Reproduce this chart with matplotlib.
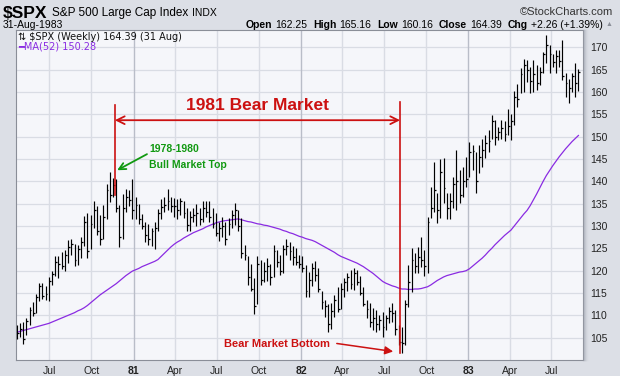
import matplotlib
matplotlib.use('Agg')
import matplotlib.pyplot as plt
import matplotlib.dates as mdates
import pandas as pd

plt.rcParams['font.family'] = ['Liberation Sans', 'DejaVu Sans']

# weekly bars, week of 21-Apr-1980 .. week of 29-Aug-1983
weeks = pd.date_range('1980-04-21', periods=176, freq='7D')

highs = [
    107.8, 108.3, 108.5, 109.3, 111.8, 112.9, 114.8, 117.2, 117.3, 116.6,
    118.6, 120.0, 123.2, 123.4, 124.2, 124.6, 126.8, 127.2, 126.0, 125.8,
    127.5, 132.3, 133.0, 132.5, 135.5, 134.5, 132.4, 134.6, 139.4, 142.0,
    140.7, 140.5, 134.6, 137.2, 138.3, 138.0, 140.5, 136.4, 135.0, 132.7,
    130.9, 130.5, 129.5, 131.0, 133.8, 136.1, 136.4, 138.3, 136.4, 136.3,
    136.0, 136.3, 135.5, 134.0, 133.3, 134.0, 135.0, 134.0, 135.5, 135.5,
    135.5, 134.0, 132.9, 131.0, 132.0, 131.0, 131.8, 133.5, 135.1, 133.5,
    131.8, 125.8, 123.2, 121.5, 118.4, 123.3, 122.4, 122.0, 122.8, 121.6,
    125.7, 124.6, 123.5, 125.7, 127.2, 126.5, 125.5, 125.0, 123.5, 123.2,
    121.3, 119.8, 121.8, 122.2, 120.5, 115.5, 113.5, 112.5, 112.7, 114.6,
    116.4, 117.2, 118.3, 119.4, 120.1, 120.5, 120.1, 118.7, 116.4, 113.4,
    112.7, 111.6, 111.2, 110.0, 110.8, 110.0, 111.9, 112.7, 111.2, 107.8,
    107.5, 113.4, 121.3, 125.0, 123.9, 125.4, 127.6, 124.6, 132.1, 138.8,
    144.4, 137.3, 144.9, 145.2, 137.3, 137.3, 141.0, 147.0, 142.5, 143.3,
    145.5, 148.9, 148.2, 146.6, 148.1, 149.6, 150.4, 151.5, 154.8, 153.7,
    152.2, 153.7, 153.5, 156.3, 155.2, 160.2, 161.9, 165.3, 167.5, 167.2,
    165.7, 167.2, 166.0, 165.7, 169.0, 172.8, 170.5, 168.5, 169.4, 169.4,
    171.6, 164.2, 163.0, 164.2, 166.4, 165.16,
]
lows = [
    104.6, 105.2, 103.6, 105.5, 107.8, 109.8, 110.5, 113.2, 113.6, 113.4,
    113.2, 116.8, 118.8, 118.4, 120.3, 120.0, 121.7, 123.5, 121.0, 121.2,
    122.8, 125.6, 122.8, 124.8, 129.5, 127.9, 125.7, 127.0, 131.5, 135.3,
    136.5, 133.1, 125.3, 127.0, 133.1, 134.5, 131.6, 131.6, 130.5, 129.4,
    126.4, 125.7, 125.5, 124.9, 129.0, 131.6, 133.1, 133.5, 133.1, 132.0,
    131.5, 132.5, 131.8, 128.8, 128.8, 131.0, 130.0, 130.3, 130.8, 132.0,
    131.0, 129.5, 127.7, 126.6, 127.5, 125.8, 128.0, 129.5, 130.3, 128.8,
    122.8, 122.5, 116.9, 115.4, 110.3, 112.5, 116.8, 117.5, 117.8, 116.8,
    118.5, 120.8, 119.0, 119.5, 123.5, 122.5, 121.3, 121.3, 120.5, 119.8,
    114.2, 114.0, 116.5, 117.7, 115.3, 111.5, 109.7, 106.3, 107.0, 109.7,
    110.8, 111.5, 114.2, 115.5, 116.0, 115.7, 116.8, 114.6, 112.0, 109.3,
    107.5, 106.8, 106.3, 106.7, 105.2, 106.7, 108.2, 108.5, 105.6, 103.4,
    101.5, 103.4, 111.9, 115.3, 119.4, 119.4, 120.9, 118.7, 119.4, 131.7,
    133.2, 130.6, 131.8, 135.1, 131.6, 131.6, 134.0, 133.6, 135.1, 136.6,
    138.8, 141.0, 142.5, 137.5, 141.8, 143.3, 145.2, 146.6, 149.6, 148.1,
    149.2, 149.5, 149.0, 150.4, 149.2, 152.6, 156.7, 159.7, 160.1, 162.3,
    159.7, 160.1, 160.5, 161.5, 164.2, 166.4, 164.2, 165.7, 164.2, 165.7,
    162.7, 158.9, 157.5, 160.0, 159.0, 160.16,
]
closes = [
    106.0, 107.0, 104.8, 108.8, 111.2, 110.6, 114.0, 116.5, 114.3, 114.8,
    117.8, 119.2, 122.0, 121.5, 121.0, 123.6, 125.2, 126.0, 122.4, 124.9,
    126.5, 131.0, 124.5, 130.5, 133.5, 129.0, 127.0, 132.0, 138.0, 137.0,
    139.3, 134.0, 127.5, 134.0, 136.5, 135.8, 133.5, 134.6, 131.5, 130.0,
    128.0, 127.0, 128.8, 129.5, 133.0, 134.2, 134.8, 135.5, 134.5, 134.5,
    133.5, 135.5, 133.0, 130.2, 132.0, 132.5, 133.0, 131.5, 134.0, 133.2,
    132.0, 130.5, 128.5, 129.5, 130.0, 127.0, 130.5, 132.5, 133.5, 130.0,
    124.0, 123.5, 118.5, 116.0, 112.0, 121.5, 118.0, 120.0, 121.0, 118.5,
    124.5, 122.0, 120.0, 124.8, 125.5, 124.5, 123.0, 122.0, 121.5, 120.5,
    115.5, 118.0, 120.5, 119.0, 116.0, 113.0, 112.0, 108.0, 111.0, 113.5,
    111.5, 116.0, 117.5, 118.5, 117.0, 119.5, 117.5, 115.0, 112.5, 111.5,
    108.5, 109.5, 108.0, 109.0, 107.5, 109.5, 111.0, 110.5, 107.0, 104.0,
    103.9, 112.5, 117.5, 122.5, 121.0, 123.0, 122.5, 121.0, 131.0, 134.0,
    138.0, 133.5, 142.0, 138.5, 134.0, 135.5, 139.5, 140.0, 137.0, 140.0,
    140.5, 146.5, 146.8, 140.0, 145.5, 147.0, 148.5, 149.0, 153.5, 150.0,
    151.0, 152.0, 150.5, 152.5, 153.5, 159.0, 158.5, 164.0, 166.0, 165.0,
    162.5, 164.0, 162.0, 164.5, 168.5, 170.5, 168.5, 166.8, 168.0, 167.0,
    163.5, 162.0, 161.0, 163.5, 162.13, 164.39,
]
ma52 = [
    106.2, 106.4, 106.6, 106.8, 107.0, 107.2, 107.4, 107.6, 107.8, 108.0,
    108.2, 108.5, 108.8, 109.1, 109.4, 109.7, 110.0, 110.3, 110.6, 111.0,
    111.3, 111.7, 112.2, 112.8, 113.4, 114.0, 114.6, 115.1, 115.6, 116.1,
    116.6, 117.1, 117.7, 118.3, 118.9, 119.4, 119.9, 120.2, 120.5, 120.9,
    121.2, 121.5, 121.8, 122.1, 122.5, 123.2, 123.9, 124.6, 125.3, 125.9,
    126.4, 126.8, 127.3, 127.7, 128.1, 128.5, 128.8, 129.1, 129.4, 129.8,
    130.1, 130.4, 130.7, 130.9, 131.1, 131.2, 131.3, 131.4, 131.5, 131.6,
    131.4, 131.2, 131.0, 130.9, 130.7, 130.5, 130.4, 130.2, 130.1, 129.9,
    129.7, 129.5, 129.3, 129.0, 128.8, 128.5, 128.3, 128.0, 127.7, 127.5,
    127.2, 127.0, 126.8, 126.5, 126.1, 125.7, 125.3, 124.9, 124.5, 124.1,
    123.6, 123.2, 122.9, 122.6, 122.3, 122.0, 121.7, 121.3, 120.9, 120.4,
    119.9, 119.4, 118.8, 118.2, 117.6, 117.2, 116.9, 116.6, 116.4, 116.1,
    115.9, 115.9, 115.8, 115.8, 115.9, 115.9, 116.0, 116.2, 116.4, 116.8,
    117.3, 117.8, 118.2, 118.6, 118.9, 119.1, 119.3, 119.5, 119.7, 119.8,
    120.0, 120.4, 121.0, 121.6, 122.2, 122.8, 123.5, 124.3, 125.0, 125.8,
    126.5, 127.2, 127.9, 128.5, 129.1, 130.0, 130.9, 131.8, 132.7, 133.5,
    134.6, 135.9, 137.2, 138.6, 140.0, 141.3, 142.4, 143.5, 144.5, 145.5,
    146.4, 147.3, 148.1, 148.9, 149.6, 150.28,
]

price_ticks = list(range(105, 171, 5))
quarter_ticks = pd.date_range('1980-07-01', '1983-07-01', freq='QS')
quarter_labels = ['Jul', 'Oct', '81', 'Apr', 'Jul', 'Oct', '82',
                  'Apr', 'Jul', 'Oct', '83', 'Apr', 'Jul']

W, H = 620, 376
fig = plt.figure(figsize=(W / 100, H / 100), dpi=100, facecolor='#dcdfe6')
ax = fig.add_axes([16 / W, 16 / H, 567 / W, 330 / H])
ax.set_facecolor('#f5f6fa')

ax.set_xlim(pd.Timestamp('1980-04-19 08:00'), pd.Timestamp('1983-09-08'))
ax.set_ylim(100.0, 173.9)

# grid
for p in price_ticks:
    ax.axhline(p, color='#d9dce4', lw=0.9, zorder=0)
for d, lab in zip(quarter_ticks, quarter_labels):
    col = '#b9bdc8' if lab.isdigit() else '#d9dce4'
    ax.axvline(d, color=col, lw=1.0, zorder=0)

# price bars
xs = mdates.date2num(weeks)
ax.vlines(xs, lows, highs, color='black', lw=0.85, zorder=3)
ax.hlines(closes, xs, xs + 4, color='black', lw=0.9, zorder=3)

# moving average
ax.plot(xs, ma52, color='#8a2be2', lw=0.9, zorder=2)

# axes styling
ax.yaxis.tick_right()
ax.set_yticks(price_ticks)
ax.set_yticklabels([str(p) for p in price_ticks])
ax.set_xticks(quarter_ticks)
ax.set_xticklabels(quarter_labels)
ax.tick_params(axis='y', length=3, width=0.8, color='#555555', labelsize=7.5,
               labelcolor='#222222', pad=2)
ax.tick_params(axis='x', length=0, labelsize=7.5, labelcolor='#222222', pad=4)
for t in ax.get_xticklabels():
    if t.get_text().isdigit():
        t.set_fontweight('bold')
for s in ax.spines.values():
    s.set_color('#8a8e98')
    s.set_linewidth(0.8)

# shaded strip right of the plot
for k, c in enumerate(['#b4b8c2', '#c2c6cf', '#ced1d9', '#d6d9e0']):
    fig.add_artist(plt.Line2D([(584 + k) / W] * 2, [16 / H, 346 / H],
                              color=c, lw=1.0, transform=fig.transFigure))

# legend text inside the plot
ax.text(2 / 567, 1 - 7 / 330, '\u21c5 $SPX (Weekly) 164.39 (31 Aug)', transform=ax.transAxes,
        fontsize=7, family=['DejaVu Sans'], color='#111111', va='center', ha='left')
ax.text(2 / 567, 1 - 16 / 330, '\u2501MA(52) 150.28', transform=ax.transAxes,
        fontsize=7, family=['DejaVu Sans'], color='#8a2be2', va='center', ha='left')

# header, laid out with measured widths
fig.canvas.draw()
rend = fig.canvas.get_renderer()

x = 3
for txt, size, weight in [('$SPX', 12.5, 'bold'), ('S&P 500 Large Cap Index', 8.5, 'normal'),
                          ('INDX', 7.5, 'normal')]:
    t = fig.text(x / W, 1 - 13 / H, txt, fontsize=size, fontweight=weight, va='center')
    x += t.get_window_extent(rend).width + 4

fig.text(613 / W, 1 - 12 / H, '\u00a9StockCharts.com', fontsize=8, color='#333333',
         va='center', ha='right')
fig.text(3 / W, 1 - 25 / H, '31-Aug-1983', fontsize=7.5, va='center')

hdr = [('Open', True), ('162.25', False), ('High', True), ('165.16', False),
       ('Low', True), ('160.16', False), ('Close', True), ('164.39', False),
       ('Chg', True), ('+2.26 (+1.39%)', False)]
x = 603
for txt, bold in reversed(hdr):
    t = fig.text(x / W, 1 - 25 / H, txt, fontsize=7.5,
                 fontweight='bold' if bold else 'normal', va='center', ha='right')
    x -= t.get_window_extent(rend).width + (6 if bold else 3)
fig.text(606 / W, 1 - 25 / H, '\u25b2', fontsize=5, color='#8a8e98', va='center')

# annotations
red = '#cc1111'
green = '#119911'
ax.text(pd.Timestamp('1981-09-28'), 157.0, '1981 Bear Market', color=red,
        fontsize=12.5, fontweight='bold', ha='center', va='center', zorder=5)
ax.annotate('', xy=(pd.Timestamp('1980-11-21'), 153.7),
            xytext=(pd.Timestamp('1982-08-05'), 153.7),
            arrowprops=dict(arrowstyle='<->', color=red, lw=1.3,
                            mutation_scale=14, shrinkA=0, shrinkB=0), zorder=5)
ax.plot([pd.Timestamp('1980-11-21')] * 2, [157.1, 136.9], color=red, lw=1.2, zorder=5)
ax.plot([pd.Timestamp('1982-08-05')] * 2, [157.8, 101.6], color=red, lw=1.2, zorder=5)

ax.text(pd.Timestamp('1981-02-04'), 147.2, '1978-1980', color=green,
        fontsize=7.5, fontweight='bold', ha='left', va='center', zorder=5)
ax.text(pd.Timestamp('1981-02-04'), 143.7, 'Bull Market Top', color=green,
        fontsize=7.5, fontweight='bold', ha='left', va='center', zorder=5)
ax.annotate('', xy=(pd.Timestamp('1980-11-26'), 142.5),
            xytext=(pd.Timestamp('1981-01-30'), 146.1),
            arrowprops=dict(arrowstyle='->', color=green, lw=1.3,
                            mutation_scale=12, shrinkA=0, shrinkB=0), zorder=5)

ax.text(pd.Timestamp('1981-11-10'), 103.6, 'Bear Market Bottom', color=red,
        fontsize=8, fontweight='bold', ha='center', va='center', zorder=5)
ax.annotate('', xy=(pd.Timestamp('1982-07-21'), 101.9),
            xytext=(pd.Timestamp('1982-03-20'), 103.7),
            arrowprops=dict(arrowstyle='-|>', color=red, lw=1.1,
                            mutation_scale=12, shrinkA=0, shrinkB=0), zorder=5)

fig.savefig('out.png', dpi=100, facecolor=fig.get_facecolor())
